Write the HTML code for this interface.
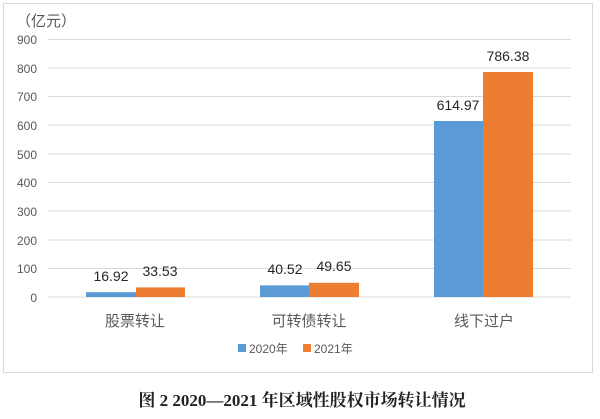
<!DOCTYPE html>
<html><head><meta charset="utf-8"><style>
body{margin:0;background:#fff;width:600px;height:414px;overflow:hidden}
</style></head><body>
<svg width="600" height="414" xmlns="http://www.w3.org/2000/svg" font-family="Liberation Sans, Noto Sans CJK SC, sans-serif">
<rect x="3.5" y="3.5" width="589" height="369" fill="#fff" stroke="#d9d9d9"/>
<text x="16" y="26" font-size="15" fill="#595959">（亿元）</text>
<g stroke="#d9d9d9" stroke-width="1">
<line x1="48" x2="571" y1="39.5" y2="39.5"/>
<line x1="48" x2="571" y1="68" y2="68"/>
<line x1="48" x2="571" y1="96.5" y2="96.5"/>
<line x1="48" x2="571" y1="125" y2="125"/>
<line x1="48" x2="571" y1="154" y2="154"/>
<line x1="48" x2="571" y1="182.5" y2="182.5"/>
<line x1="48" x2="571" y1="211" y2="211"/>
<line x1="48" x2="571" y1="240" y2="240"/>
<line x1="48" x2="571" y1="268.5" y2="268.5"/>
<line x1="48" x2="571" y1="297" y2="297"/>
</g>
<g font-size="12" fill="#595959" text-anchor="end">
<text x="37" y="44">900</text><text x="37" y="73">800</text><text x="37" y="101">700</text>
<text x="37" y="130">600</text><text x="37" y="159">500</text><text x="37" y="187">400</text>
<text x="37" y="216">300</text><text x="37" y="245">200</text><text x="37" y="273">100</text>
<text x="37" y="302">0</text>
</g>
<rect x="86" y="292.2" width="50" height="4.8" fill="#5b9bd5"/>
<rect x="136" y="287.4" width="49" height="9.6" fill="#ed7d31"/>
<rect x="260" y="285.4" width="49" height="11.6" fill="#5b9bd5"/>
<rect x="309" y="282.8" width="50" height="14.2" fill="#ed7d31"/>
<rect x="434" y="121" width="49" height="176" fill="#5b9bd5"/>
<rect x="483" y="72" width="50" height="225" fill="#ed7d31"/>
<g font-size="14" fill="#262626" text-anchor="middle">
<text x="111" y="281">16.92</text><text x="160" y="276">33.53</text>
<text x="285" y="274">40.52</text><text x="334" y="271">49.65</text>
<text x="458" y="110">614.97</text><text x="508" y="61">786.38</text>
</g>
<g font-size="15" fill="#595959" text-anchor="middle">
<text x="135" y="326">股票转让</text><text x="309" y="326">可转债转让</text><text x="484" y="326">线下过户</text>
</g>
<rect x="238" y="344" width="8" height="8" fill="#5b9bd5"/>
<text x="249" y="353" font-size="12" fill="#595959">2020年</text>
<rect x="303" y="344" width="8" height="8" fill="#ed7d31"/>
<text x="314" y="353" font-size="12" fill="#595959">2021年</text>
<text x="302" y="406" font-size="17" font-weight="bold" text-anchor="middle" fill="#222" font-family="Liberation Serif, Noto Serif CJK SC, serif">图 2 2020—2021 年区域性股权市场转让情况</text>
</svg>
</body></html>
